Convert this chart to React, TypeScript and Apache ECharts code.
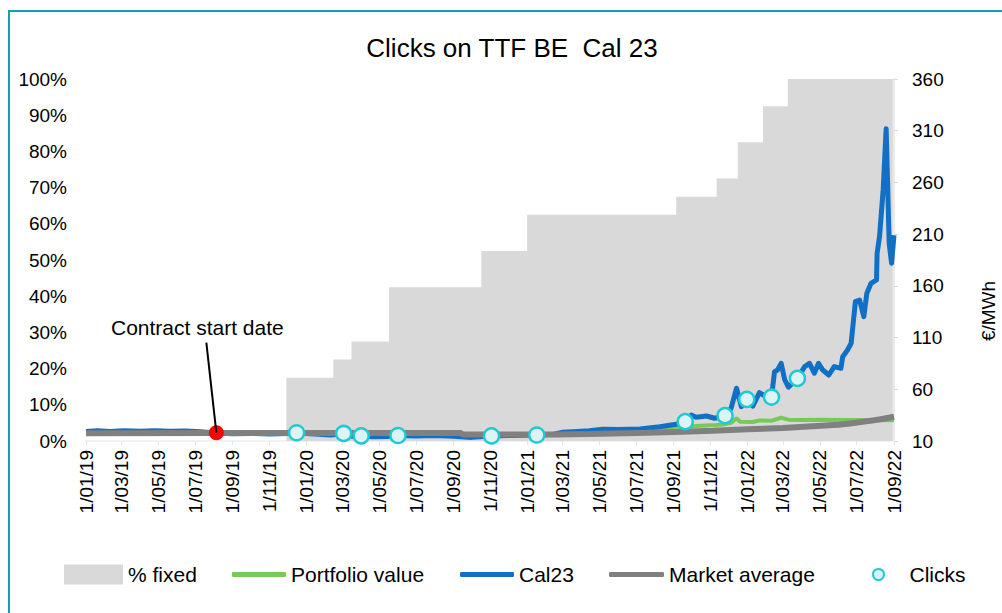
import React, { useEffect, useRef } from "react";
import * as echarts from "echarts";

const FONT = "Liberation Sans, Arial, sans-serif";

const chartTitle = "Clicks on TTF BE  Cal 23";
const xTickLabels = [
  "1/01/19", "1/03/19", "1/05/19", "1/07/19", "1/09/19", "1/11/19",
  "1/01/20", "1/03/20", "1/05/20", "1/07/20", "1/09/20", "1/11/20",
  "1/01/21", "1/03/21", "1/05/21", "1/07/21", "1/09/21", "1/11/21",
  "1/01/22", "1/03/22", "1/05/22", "1/07/22", "1/09/22",
];
const rightTicks = [10, 60, 110, 160, 210, 260, 310, 360];

// % fixed (step area, left axis, %)
const pctFixed: [string, number][] = [
  ["2019-11-29", 17.5], ["2020-02-15", 22.5], ["2020-03-16", 27.5], ["2020-05-17", 42.5],
  ["2020-10-17", 52.5], ["2021-01-01", 62.5], ["2021-09-05", 67.5], ["2021-11-11", 72.5],
  ["2021-12-16", 82.5], ["2022-01-27", 92.5], ["2022-03-09", 100], ["2022-08-30", 100],
];

// Portfolio value (€/MWh)
const portfolioValue: [string, number][] = [
  ["2019-08-05", 17.8], ["2019-12-01", 17.4], ["2020-03-01", 17.0], ["2020-06-01", 16.0],
  ["2020-10-01", 15.6], ["2021-01-01", 15.8], ["2021-04-01", 17.0], ["2021-07-01", 18.5],
  ["2021-08-15", 20.5], ["2021-09-05", 22.5], ["2021-09-20", 23.8], ["2021-10-15", 24.8],
  ["2021-11-10", 25.5], ["2021-11-25", 26.3], ["2021-12-05", 27.5], ["2021-12-14", 32.0],
  ["2021-12-20", 28.6], ["2022-01-10", 28.4], ["2022-01-21", 29.8], ["2022-02-10", 29.6],
  ["2022-02-26", 32.5], ["2022-03-10", 30.6], ["2022-03-25", 30.4], ["2022-05-01", 30.6],
  ["2022-06-15", 30.4], ["2022-08-01", 30.3], ["2022-09-01", 30.0],
];

// Cal23 price (€/MWh)
const cal23: [string, number][] = [
  ["2019-01-01", 19.2], ["2019-01-20", 19.8], ["2019-02-10", 19.3], ["2019-03-05", 19.9],
  ["2019-04-01", 19.4], ["2019-04-25", 20.0], ["2019-05-20", 19.5], ["2019-06-15", 19.7],
  ["2019-07-10", 18.9], ["2019-08-05", 17.8], ["2019-09-01", 17.0], ["2019-10-01", 17.3],
  ["2019-11-01", 16.8], ["2019-12-01", 17.2], ["2019-12-16", 17.8], ["2020-01-15", 16.8],
  ["2020-02-10", 15.8], ["2020-03-03", 17.0], ["2020-03-20", 14.2], ["2020-04-01", 15.0],
  ["2020-04-20", 14.0], ["2020-05-15", 14.3], ["2020-06-01", 15.2], ["2020-07-01", 14.8],
  ["2020-08-01", 15.3], ["2020-09-01", 14.6], ["2020-10-01", 13.5], ["2020-11-03", 14.9],
  ["2020-12-01", 15.2], ["2021-01-17", 15.8], ["2021-02-15", 16.5], ["2021-03-01", 18.5],
  ["2021-03-25", 19.2], ["2021-04-14", 20.0], ["2021-05-06", 21.3], ["2021-06-01", 21.0],
  ["2021-07-07", 21.6], ["2021-08-09", 23.8], ["2021-09-05", 26.1], ["2021-09-20", 28.7],
  ["2021-09-30", 35.0], ["2021-10-08", 32.9], ["2021-10-25", 34.2], ["2021-11-08", 32.0],
  ["2021-11-25", 34.5], ["2021-12-05", 41.6], ["2021-12-14", 61.0], ["2021-12-22", 43.2],
  ["2021-12-31", 50.3], ["2022-01-10", 43.8], ["2022-01-21", 56.7], ["2022-02-01", 52.8],
  ["2022-02-10", 52.5], ["2022-02-15", 77.0], ["2022-02-20", 78.6], ["2022-02-26", 85.1],
  ["2022-03-04", 69.0], ["2022-03-10", 62.0], ["2022-03-25", 70.6], ["2022-04-06", 81.9],
  ["2022-04-14", 85.1], ["2022-04-22", 75.5], ["2022-04-29", 85.1], ["2022-05-06", 78.6],
  ["2022-05-16", 73.8], ["2022-05-25", 81.9], ["2022-06-05", 80.3], ["2022-06-08", 91.5],
  ["2022-06-16", 98.0], ["2022-06-22", 104.5], ["2022-06-29", 144.7], ["2022-07-06", 146.3],
  ["2022-07-13", 130.2], ["2022-07-18", 152.8], ["2022-07-25", 162.5], ["2022-08-03", 165.7],
  ["2022-08-04", 191.5], ["2022-08-08", 207.5], ["2022-08-14", 252.7], ["2022-08-19", 312.0],
  ["2022-08-24", 201.0], ["2022-08-28", 181.8], ["2022-09-01", 209.0],
];

// Market average (€/MWh)
const marketAverage: [string, number][] = [
  ["2019-01-01", 17.6], ["2019-08-05", 17.8], ["2020-01-01", 17.7], ["2020-09-13", 17.7],
  ["2020-09-16", 16.2], ["2021-02-19", 16.2], ["2021-04-15", 16.8], ["2021-07-19", 18.0],
  ["2021-09-15", 19.0], ["2021-11-05", 20.0], ["2022-01-01", 21.3], ["2022-03-01", 22.6],
  ["2022-04-19", 24.3], ["2022-06-01", 25.8], ["2022-06-20", 27.0], ["2022-07-20", 29.2],
  ["2022-08-10", 31.0], ["2022-09-01", 33.5],
];

// Clicks (€/MWh)
const clicks: [string, number][] = [
  ["2019-12-16", 18.0], ["2020-03-03", 17.3], ["2020-04-01", 15.0], ["2020-06-01", 15.3],
  ["2020-11-03", 14.9], ["2021-01-17", 15.8], ["2021-09-20", 28.7], ["2021-11-25", 34.5],
  ["2021-12-31", 50.3], ["2022-02-10", 52.5], ["2022-03-25", 70.6],
];

const contractStart: [string, number] = ["2019-08-05", 18.0];
const contractLabel = "Contract start date";
const yRightName = "€/MWh";

const parseTick = (s: string) => {
  const [d, m, y] = s.split("/").map(Number);
  return new Date(2000 + y, m - 1, d).getTime();
};
const parseIso = (s: string) => {
  const [y, m, d] = s.split("-").map(Number);
  return new Date(y, m - 1, d).getTime();
};
const toTs = (arr: [string, number][]) => arr.map(([d, v]) => [parseIso(d), v]);
const pad = (n: number) => (n < 10 ? "0" + n : "" + n);
const fmtDate = (v: number) => {
  const d = new Date(v);
  return `${d.getDate()}/${pad(d.getMonth() + 1)}/${String(d.getFullYear()).slice(2)}`;
};

export default function App() {
  const ref = useRef<HTMLDivElement>(null);
  useEffect(() => {
    if (!ref.current) return;
    const chart = echarts.init(ref.current, undefined, { renderer: "svg" });
    const xTickValues = xTickLabels.map(parseTick);
    const txt = { fontFamily: FONT, color: "#000" };
    const legendBase = {
      top: 564,
      padding: 0,
      itemHeight: 20,
      textStyle: { ...txt, fontSize: 21 },
    };
    const lineLegend = { ...legendBase, itemHeight: 5 };
    const startPt = [parseIso(contractStart[0]), contractStart[1]];
    chart.setOption({
      animation: false,
      backgroundColor: "#fff",
      title: {
        text: chartTitle,
        left: 507,
        top: 30,
        textAlign: "center",
        textStyle: { ...txt, fontSize: 26, fontWeight: "normal" },
      },
      grid: { left: 86, right: 108, top: 79, bottom: 172, containLabel: false },
      legend: [
        { ...legendBase, left: 64, itemWidth: 59, data: [{ name: "% fixed", icon: "rect" }] },
        { ...lineLegend, left: 232, itemWidth: 54, data: [{ name: "Portfolio value", icon: "roundRect" }] },
        { ...lineLegend, left: 460, itemWidth: 54, data: [{ name: "Cal23", icon: "roundRect" }] },
        { ...lineLegend, left: 609, itemWidth: 55, data: [{ name: "Market average", icon: "roundRect" }] },
        {
          ...legendBase, left: 872, itemWidth: 52, itemHeight: 11,
          data: [{ name: "Clicks", icon: "circle" }],
          itemStyle: { color: "#DDF4F7", borderColor: "#1ECAD3", borderWidth: 2 },
        },
      ],
      xAxis: {
        type: "value",
        min: parseTick("1/01/19"),
        max: parseTick("1/09/22"),
        axisLine: { show: true, lineStyle: { color: "#F2F2F2", width: 2 } },
        axisTick: { show: true, length: 4, customValues: xTickValues, lineStyle: { color: "#E6E6E6" } },
        splitLine: { show: false },
        axisLabel: {
          customValues: xTickValues,
          rotate: 90,
          margin: 9,
          fontSize: 19,
          ...txt,
          formatter: (v: number) => fmtDate(v),
        },
      },
      yAxis: [
        {
          type: "value",
          min: 0,
          max: 100,
          interval: 10,
          axisLine: { show: false },
          axisTick: { show: false },
          splitLine: { show: false },
          axisLabel: { formatter: "{value}%", fontSize: 19, margin: 19, ...txt },
        },
        {
          type: "value",
          position: "right",
          min: 10,
          max: 360,
          axisLine: { show: true, lineStyle: { color: "#EBEBEB", width: 2 } },
          axisTick: { show: true, length: 4, customValues: rightTicks, lineStyle: { color: "#D9D9D9" } },
          splitLine: { show: false },
          axisLabel: { customValues: rightTicks, fontSize: 19, margin: 18, ...txt },
        },
      ],
      series: [
        {
          name: "% fixed",
          type: "line",
          yAxisIndex: 0,
          step: "end",
          symbol: "none",
          data: toTs(pctFixed),
          lineStyle: { width: 0 },
          itemStyle: { color: "#D9D9D9" },
          areaStyle: { color: "#D9D9D9", opacity: 1 },
          z: 1,
        },
        {
          name: "Portfolio value",
          type: "line",
          yAxisIndex: 1,
          symbol: "none",
          data: toTs(portfolioValue),
          itemStyle: { color: "#78C85A" },
          lineStyle: { color: "#78C85A", width: 4 },
          z: 2,
        },
        {
          name: "Cal23",
          type: "line",
          yAxisIndex: 1,
          symbol: "none",
          data: toTs(cal23),
          itemStyle: { color: "#1170C6" },
          lineStyle: { color: "#1170C6", width: 5, join: "round" },
          z: 3,
        },
        {
          name: "Market average",
          type: "line",
          yAxisIndex: 1,
          symbol: "none",
          data: toTs(marketAverage),
          itemStyle: { color: "#808080" },
          lineStyle: { color: "#808080", width: 6 },
          z: 4,
        },
        {
          name: "Clicks",
          type: "scatter",
          yAxisIndex: 1,
          symbol: "circle",
          symbolSize: 15,
          data: toTs(clicks),
          itemStyle: { color: "#DDF4F7", borderColor: "#1ECAD3", borderWidth: 2.5, opacity: 1 },
          z: 10,
        },
        {
          name: "Contract start",
          type: "scatter",
          yAxisIndex: 1,
          symbol: "circle",
          symbolSize: 15,
          data: [startPt],
          itemStyle: { color: "#FF0000", opacity: 1 },
          z: 11,
        },
      ],
    });

    let px = 217;
    let py = 433;
    try {
      const p = chart.convertToPixel({ seriesIndex: 5 }, startPt) as number[];
      if (p && isFinite(p[0]) && isFinite(p[1])) {
        px = p[0];
        py = p[1];
      }
    } catch (e) {
      /* keep fallback */
    }
    chart.setOption({
      graphic: [
        {
          type: "rect",
          silent: true,
          shape: { x: 9, y: 11, width: 1100, height: 700 },
          style: { fill: "none", stroke: "#17A1A6", lineWidth: 2 },
          z: 100,
        },
        {
          type: "text",
          x: 988,
          y: 311,
          rotation: Math.PI / 2,
          style: { text: yRightName, fontSize: 19, fontFamily: FONT, fill: "#000", align: "center", verticalAlign: "middle" },
        },
        {
          type: "text",
          x: px - 19,
          y: py - 105,
          style: { text: contractLabel, fontSize: 21, fontFamily: FONT, fill: "#000", align: "center", verticalAlign: "middle" },
        },
        {
          type: "line",
          shape: { x1: px - 10, y1: py - 90, x2: px, y2: py },
          style: { stroke: "#000", lineWidth: 2 },
          z: 12,
        },
      ],
    });
    return () => chart.dispose();
  }, []);
  return <div ref={ref} style={{ position: "fixed", left: 0, top: 0, width: 1002, height: 613 }} />;
}
